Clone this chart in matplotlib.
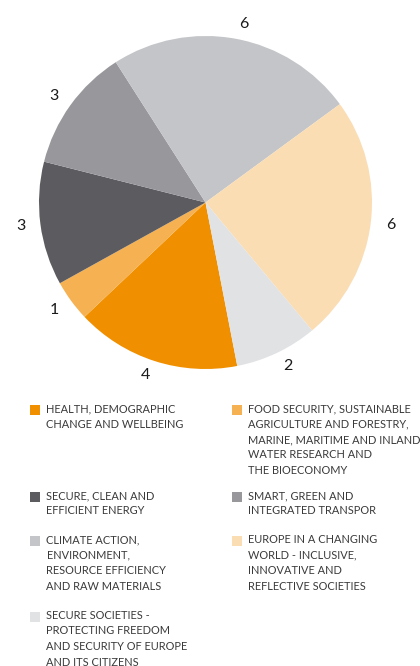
import matplotlib
matplotlib.use("Agg")
import matplotlib.pyplot as plt
from matplotlib.patches import Rectangle

# data, in legend order (pie runs clockwise in this order)
labels = [
    "HEALTH, DEMOGRAPHIC\nCHANGE AND WELLBEING",
    "FOOD SECURITY, SUSTAINABLE\nAGRICULTURE AND FORESTRY,\nMARINE, MARITIME AND INLAND\nWATER RESEARCH AND\nTHE BIOECONOMY",
    "SECURE, CLEAN AND\nEFFICIENT ENERGY",
    "SMART, GREEN AND\nINTEGRATED TRANSPOR",
    "CLIMATE ACTION,\nENVIRONMENT,\nRESOURCE EFFICIENCY\nAND RAW MATERIALS",
    "EUROPE IN A CHANGING\nWORLD - INCLUSIVE,\nINNOVATIVE AND\nREFLECTIVE SOCIETIES",
    "SECURE SOCIETIES -\nPROTECTING FREEDOM\nAND SECURITY OF EUROPE\nAND ITS CITIZENS",
]
values = [4, 1, 3, 3, 6, 6, 2]
colors = ["#F09000", "#F5B152", "#5C5B60", "#98979C", "#C4C5C8", "#FBDDB4", "#E1E2E4"]

W, H = 420, 666
fig = plt.figure(figsize=(W / 100, H / 100), dpi=100)

# pie: centre (205.5, 202.5) px, radius 166.5 px
cx, cy, r = 205.5, 202.5, 166.5
ax = fig.add_axes([(cx - r) / W, 1 - (cy + r) / H, 2 * r / W, 2 * r / H])
wedges, texts = ax.pie(values, colors=colors, startangle=-79, counterclock=False,
                       labels=[str(v) for v in values], labeldistance=1.09,
                       textprops=dict(fontsize=11.5, color="#1a1a1a", family="Lato"),
                       wedgeprops=dict(linewidth=0))
ax.set_xlim(-1, 1)
ax.set_ylim(-1, 1)
ax.set_aspect("equal")
ax.axis("off")

# legend, two columns, rows aligned by hand
rows = [410, 497, 541, 617]
cols = [30, 232]
pos = [(0, 0), (1, 0), (0, 1), (1, 1), (0, 2), (1, 2), (0, 3)]
for (ci, ri), lbl, c in zip(pos, labels, colors):
    x0, y0 = cols[ci], rows[ri]
    fig.patches.append(Rectangle((x0 / W, 1 - (y0 + 4.5) / H), 9.5 / W, 9.5 / H,
                                 transform=fig.transFigure, facecolor=c,
                                 edgecolor="none"))
    fig.text((x0 + 16.5) / W, 1 - (y0 - 7) / H, lbl, ha="left", va="top",
             fontsize=7.9, color="#3a3a3a", linespacing=1.5, family="Lato")

fig.savefig("out.png", dpi=100)
